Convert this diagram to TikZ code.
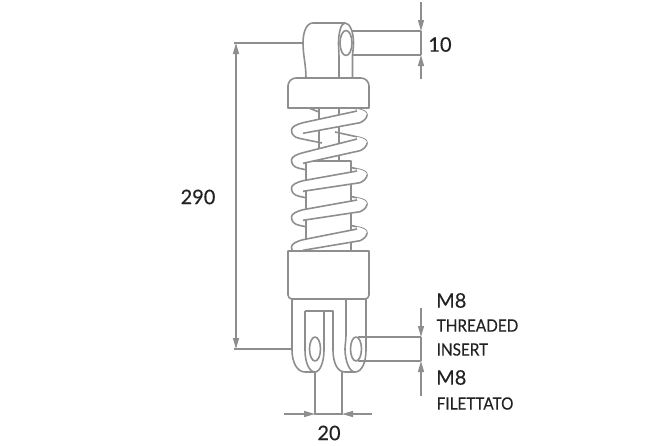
\documentclass[tikz,border=0pt]{standalone}
\usepackage{fontspec}
\setmainfont{Lato}[FakeBold=0.25]
\usetikzlibrary{arrows.meta}
\definecolor{ln}{HTML}{8E8E8E}
\definecolor{tx}{HTML}{222222}
\tikzset{
 part/.style={draw=ln,line width=1.6pt,fill=white,line join=round},
 edge/.style={draw=ln,line width=1.6pt,line join=round},
 dim/.style={draw=ln,line width=1.3pt},
 tipd/.style={dim,-{Triangle[length=11pt,width=6pt,fill=ln]}},
 lab/.style={text=tx,inner sep=0pt,font=\fontsize{20}{20}\selectfont},
 sub/.style={text=tx,inner sep=0pt,anchor=west,xscale=.9,font=\fontsize{17}{17}\selectfont},
 hd/.style={text=tx,inner sep=0pt,anchor=west,font=\fontsize{20}{20}\selectfont},
}
\begin{document}
\begin{tikzpicture}[x=1pt,y=-1pt]
\useasboundingbox[fill=white] (0,0) rectangle (668,445);
% back of spring
\draw[edge] (310,108.5) -- (319,112);
\foreach \r/\l in {115/130,143/160,175/188,204/217,233/247}{
  \draw[edge] (335,\r-11) -- (357,\r-6.2) .. controls (363,\r-5) and (367,\r-3.5) .. (367,\r);
  \draw[edge] (293,\l+5) .. controls (294.5,\l+7) and (297,\l+7.8) .. (300,\l+8.5) -- (322,\l+13);
}
% rod and tube
\draw[edge] (319,108) -- (319,162) (339,108) -- (339,162);
\draw[part] (306,251) -- (306,161) -- (351,161) -- (351,251);
% front of spring
\foreach \r/\l in {115/130,143/160,175/188,204/217,233/247}{
  \fill[white] (357,\r-4) -- (303,\l-7.3) .. controls (296,\l-5.5) and (291.5,\l-3) .. (291.5,\l)
     .. controls (291.5,\l+4) and (295,\l+6) .. (300,\l+7) -- (303,\l+3.3) -- (360,\r+7.7)
     .. controls (364,\r+6) and (367,\r+3) .. (367,\r)
     .. controls (367,\r-3) and (363,\r-5) .. (357,\r-6.2) -- cycle;
  \draw[edge] (357,\r-4) -- (303,\l-7.3) .. controls (296,\l-5.5) and (291.5,\l-3) .. (291.5,\l)
     .. controls (291.5,\l+2) and (292,\l+3.5) .. (293,\l+5);
  \draw[edge] (303,\l+3.3) -- (360,\r+7.7) .. controls (364,\r+6) and (367,\r+3) .. (367,\r);
}
% top eye
\draw[part] (306,78) .. controls (306,65) and (303,55) .. (303,43)
   .. controls (303,33) and (306,23) .. (313,23) -- (345,23)
   .. controls (350,23) and (353.5,32) .. (353.5,43)
   .. controls (353.5,46) and (353,51) .. (352.5,55) -- (352.5,78) -- cycle;
\draw[edge] (345,23) .. controls (341,23) and (338.5,33) .. (338.5,43)
   .. controls (338.5,49) and (339,53) .. (339,58) -- (339,78);
\draw[part] (346,43) ellipse [x radius=6,y radius=12.5];
% cap
\draw[part] (288,108) [rounded corners=8pt] -- (288,78) -- (369,78) [sharp corners] -- (369,108) -- cycle;
% lower block and fork
\draw[part] (292,299) -- (292,350) .. controls (292,362) and (297,372) .. (305,372)
   -- (315,372) .. controls (320,372) and (324,362) .. (324,350) -- (324,311) -- (333,311)
   -- (333,350) .. controls (333,362) and (337,372) .. (345,372) -- (355,372)
   .. controls (362,372) and (366,362) .. (366,350) -- (366,299) -- cycle;
\draw[edge] (305,311) -- (324,311);
\draw[edge] (305,311) -- (305,350) .. controls (305,362) and (309,372) .. (315,372);
\draw[edge] (346,299) -- (346,335) .. controls (346,340) and (345,345) .. (345,349)
   .. controls (345,360) and (349,372) .. (355,372);
\draw[part] (315,349) ellipse [x radius=5.5,y radius=12];
\draw[part] (356,349) ellipse [x radius=5.5,y radius=12];
\draw[part] (288,251) -- (369,251) [rounded corners=4pt] -- (369,299) -- (288,299) [sharp corners] -- (288,251) -- cycle;
% dimension 10
\draw[dim] (352,31) -- (421,31) (352,55) -- (421,55) (421,31) -- (421,55);
\draw[tipd] (421,2) -- (421,31);
\draw[tipd] (421,79) -- (421,55);
% dimension 290
\draw[dim] (303,43) -- (234,43) (292,349) -- (234,349);
\draw[tipd] (236,190) -- (236,43);
\draw[tipd] (236,190) -- (236,349);
% dimension M8
\draw[dim] (358,337) -- (421,337) (358,361) -- (421,361) (421,337) -- (421,361);
\draw[tipd] (421,308) -- (421,337);
\draw[tipd] (421,396) -- (421,361);
% dimension 20
\draw[dim] (315,372) -- (315,415) (342,372) -- (342,415) (315,414) -- (342,414);
\draw[tipd] (284,414) -- (315,414);
\draw[tipd] (372,414) -- (342,414);
% labels
\node[lab] (t10) at (440,44.5) {10};
\node[lab] (t290) at (198,197) {290};
\node[lab] (t20) at (329,433) {20};
\node[hd] (m1) at (436,300.5) {M8};
\node[sub] (s1) at (436.5,325.5) {THREADED};
\node[sub] (s2) at (436.5,349.5) {INSERT};
\node[hd] (m2) at (436,377.5) {M8};
\node[sub] (s3) at (436.5,403.5) {FILETTATO};
\end{tikzpicture}
\end{document}
